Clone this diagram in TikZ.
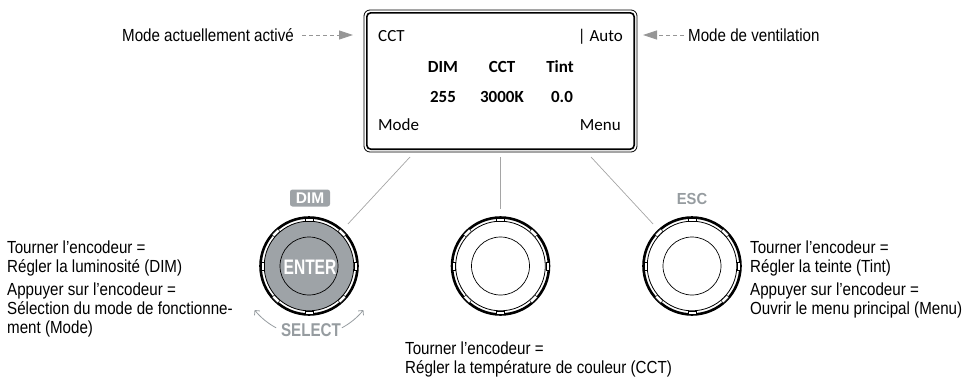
\documentclass[tikz,border=0pt]{standalone}
\usepackage{fontspec}
\usepackage{graphicx}
\usetikzlibrary{arrows.meta,calc}
\setmainfont{Liberation Sans}[FakeStretch=0.865]
\newfontfamily\dispfont{Carlito}
\newfontfamily\knobfont{Liberation Sans}
\definecolor{knobgray}{RGB}{158,163,167}
\definecolor{linegray}{RGB}{165,165,165}
\definecolor{arrowgray}{RGB}{150,150,150}
\definecolor{labelgray}{RGB}{150,156,160}
\tikzset{
  pics/knob/.style={code={
    \draw[line width=2.6pt, fill=white] (0,0) circle (48.5);
    \draw[line width=0.8pt, fill=#1] (0,0) circle (44.8);
    \foreach \a in {0,45,...,315}{\draw[line width=0.35pt, fill=white, rotate=\a] (-4,45.2) rectangle (4,48.3);}
    \draw[line width=0.7pt] (0,0) circle (29);
  }}
}
\begin{document}
\begin{tikzpicture}[x=1pt,y=-1pt,
  lbl/.style={inner sep=0pt, align=left, font=\fontsize{17.5}{19}\selectfont},
  disptxt/.style={inner sep=0pt, font=\dispfont\fontsize{17}{20}\selectfont},
  dispbold/.style={inner sep=0pt, font=\dispfont\bfseries\fontsize{17}{20}\selectfont},
  conn/.style={draw=linegray, line width=0.7pt},
  dashline/.style={draw=arrowgray, line width=0.8pt, dash pattern=on 4pt off 3pt, -{Triangle[length=14pt,width=9pt,fill=arrowgray]}},
  selarrow/.style={draw=labelgray, line width=0.8pt, -{Straight Barb[length=3.5pt,width=7pt]}},
  knobspot/.style={circle, minimum size=114pt, inner sep=0pt},
  badge/.style={fill=knobgray, rounded corners=2.5pt, minimum width=40pt, minimum height=17pt, inner sep=0pt, text=white, font=\knobfont\bfseries\fontsize{15.5}{16}\selectfont},
  knoblbl/.style={inner sep=0pt, font=\knobfont\bfseries}
]
\useasboundingbox (0,0) rectangle (972,378);
% display
\node[draw, line width=0.8pt, rounded corners=6pt, minimum width=273pt, minimum height=142pt, inner sep=0pt] (disp) at (500.5,81) {};
\draw[line width=1.6pt, rounded corners=4pt] ($(disp.north west)+(3.2,3.2)$) rectangle ($(disp.south east)+(-3.2,-3.2)$);
\node[disptxt, anchor=base west] (dmode) at (378,41.5) {CCT};
\node[disptxt, anchor=base east] (dauto) at (623,41.5) {| Auto};
\node[dispbold, anchor=base] (h1) at (443,72.5) {DIM};
\node[dispbold, anchor=base] (h2) at (502,72.5) {CCT};
\node[dispbold, anchor=base] (h3) at (560,72.5) {Tint};
\node[dispbold, anchor=base] (v1) at (443,102.5) {255};
\node[dispbold, anchor=base] (v2) at (502,102.5) {3000K};
\node[dispbold, anchor=base] (v3) at (562,102.5) {0.0};
\node[disptxt, anchor=base west] (smode) at (378,130.5) {Mode};
\node[disptxt, anchor=base east] (smenu) at (621,130.5) {Menu};
% top labels
\node[lbl, anchor=base east] (la) at (294,41.3) {Mode actuellement activé};
\node[lbl, anchor=base west] (lr) at (688,41.3) {Mode de ventilation};
\coordinate (aL) at (353,35);
\coordinate (aR) at (643,35);
\draw[dashline] ($(la.east |- aL)+(8,0)$) -- (aL);
\draw[dashline] ($(lr.west |- aR)+(-4,0)$) -- (aR);
% knobs
\node[knobspot] (kL) at (309,266) {};
\node[knobspot] (kM) at (500.5,266) {};
\node[knobspot] (kR) at (692,266) {};
\pic at (kL) {knob=knobgray};
\pic at (kM) {knob=white};
\pic at (kR) {knob=white};
\node[knoblbl, text=white] (enter) at (310,267) {\scalebox{0.74}[1]{\fontsize{21}{21}\selectfont ENTER}};
\node[badge] (dim) at (310,198) {DIM};
\node[knoblbl, text=labelgray] (esc) at (692,199) {\scalebox{0.92}[1]{\fontsize{16}{16}\selectfont ESC}};
\node[knoblbl, text=labelgray] (select) at (311,330) {\scalebox{0.82}[1]{\fontsize{18.5}{18}\selectfont SELECT}};
\draw[selarrow] plot[domain=118:141, samples=20] ({309+70*cos(\x)},{266+70*sin(\x)});
\draw[selarrow] plot[domain=62:39, samples=20] ({309+70*cos(\x)},{266+70*sin(\x)});
% connectors
\coordinate (cL) at (410,157);
\coordinate (cM) at (500.5,157);
\coordinate (cR) at (591,157);
\draw[conn] (cL) -- (kL);
\draw[conn] (cM) -- (kM);
\draw[conn] (cR) -- (kR);
% descriptions
\node[lbl, anchor=north west] (tL) at (7,241) {Tourner l’encodeur =\\Régler la luminosité (DIM)\\[4pt]Appuyer sur l’encodeur =\\Sélection du mode de fonctionne-\\ment (Mode)};
\node[lbl, anchor=north west] (tR) at (750,241) {Tourner l’encodeur =\\Régler la teinte (Tint)\\[4pt]Appuyer sur l’encodeur =\\Ouvrir le menu principal (Menu)};
\node[lbl, anchor=north west] (tM) at (405,342) {Tourner l’encodeur =\\Régler la température de couleur (CCT)};
\end{tikzpicture}
\end{document}
